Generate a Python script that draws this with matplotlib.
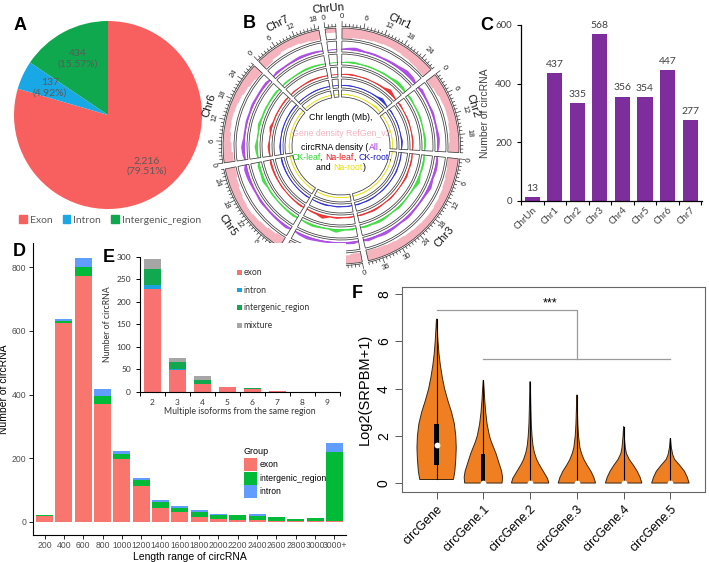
import numpy as np
import matplotlib
matplotlib.use('Agg')
import matplotlib.pyplot as plt
from matplotlib.patches import Wedge, Patch, Rectangle, Polygon
from matplotlib.offsetbox import TextArea, HPacker, AnnotationBbox

plt.rcParams['font.family'] = ['Liberation Sans', 'DejaVu Sans']

# ---------------- DATA ----------------
# Panel A
pie_labels = ['Exon', 'Intron', 'Intergenic_region']
pie_values = [2216, 137, 434]
pie_colors = ['#F8605F', '#18A8E6', '#10A84E']

# Panel B (circos)
chr_names = ['ChrUn', 'Chr1', 'Chr2', 'Chr3', 'Chr4', 'Chr5', 'Chr6', 'Chr7']
chr_len = [3, 28, 23, 40, 22, 27, 29, 19]
gene_density = [
    [0.4],
    [0.95, 0.85, 0.8, 0.75, 0.7, 0.72, 0.78, 0.85, 0.9],
    [0.9, 0.82, 0.72, 0.68, 0.7, 0.78, 0.84, 0.92],
    [0.92, 0.86, 0.78, 0.7, 0.66, 0.6, 0.62, 0.66, 0.7, 0.76, 0.82, 0.88, 0.92],
    [0.88, 0.76, 0.66, 0.6, 0.66, 0.76, 0.88],
    [0.9, 0.8, 0.7, 0.62, 0.56, 0.62, 0.7, 0.8, 0.9],
    [0.88, 0.76, 0.66, 0.56, 0.52, 0.56, 0.62, 0.72, 0.82, 0.9],
    [0.86, 0.72, 0.62, 0.66, 0.76, 0.86],
]
circ_all = [
    [0.1],
    [0.35, 0.6, 0.3, 0.35, 0.3, 0.4, 0.5, 0.85, 0.7],
    [0.6, 0.35, 0.3, 0.45, 0.3, 0.35, 0.55, 0.4],
    [0.4, 0.5, 0.35, 0.7, 0.4, 0.3, 0.35, 0.5, 0.3, 0.45, 0.6, 0.4, 0.55],
    [0.5, 0.35, 0.55, 0.3, 0.4, 0.6, 0.45],
    [0.55, 0.4, 0.35, 0.3, 0.45, 0.3, 0.4, 0.6, 0.7],
    [0.5, 0.7, 0.35, 0.3, 0.4, 0.3, 0.45, 0.35, 0.4, 0.5],
    [0.45, 0.3, 0.35, 0.5, 0.4, 0.3],
]
circ_ckleaf = [
    [0.05],
    [0.2, 0.35, 0.2, 0.25, 0.2, 0.3, 0.3, 0.6, 0.5],
    [0.4, 0.2, 0.25, 0.3, 0.2, 0.25, 0.4, 0.3],
    [0.3, 0.35, 0.25, 0.75, 0.3, 0.2, 0.3, 0.4, 0.2, 0.35, 0.5, 0.3, 0.4],
    [0.35, 0.25, 0.7, 0.2, 0.3, 0.45, 0.3],
    [0.4, 0.3, 0.25, 0.2, 0.3, 0.25, 0.6, 0.4, 0.5],
    [0.35, 0.6, 0.25, 0.2, 0.5, 0.25, 0.3, 0.25, 0.3, 0.35],
    [0.3, 0.2, 0.25, 0.35, 0.3, 0.2],
]
circ_naleaf = [
    [0.05],
    [0.2, 0.3, 0.15, 0.2, 0.15, 0.25, 0.3, 0.9, 0.4],
    [0.35, 0.15, 0.2, 0.25, 0.15, 0.2, 0.3, 0.25],
    [0.25, 0.3, 0.2, 0.4, 0.25, 0.15, 0.2, 0.3, 0.15, 0.3, 0.4, 0.25, 0.3],
    [0.3, 0.2, 0.35, 0.2, 0.85, 0.35, 0.25],
    [0.35, 0.25, 0.2, 0.15, 0.25, 0.2, 0.3, 0.35, 0.4],
    [0.3, 0.45, 0.2, 0.15, 0.6, 0.2, 0.25, 0.2, 0.25, 0.3],
    [0.25, 0.15, 0.2, 0.3, 0.25, 0.15],
]
circ_ckroot = [
    [0.05],
    [0.2, 0.25, 0.15, 0.2, 0.15, 0.2, 0.3, 0.8, 0.35],
    [0.3, 0.15, 0.2, 0.2, 0.15, 0.2, 0.45, 0.25],
    [0.2, 0.25, 0.2, 0.3, 0.2, 0.15, 0.2, 0.25, 0.15, 0.25, 0.3, 0.2, 0.3],
    [0.25, 0.2, 0.3, 0.15, 0.35, 0.25, 0.2],
    [0.3, 0.2, 0.2, 0.15, 0.2, 0.2, 0.25, 0.3, 0.35],
    [0.25, 0.35, 0.2, 0.15, 0.25, 0.2, 0.2, 0.2, 0.25, 0.25],
    [0.2, 0.15, 0.2, 0.25, 0.2, 0.15],
]
circ_naroot = [
    [0.05],
    [0.2, 0.25, 0.15, 0.2, 0.15, 0.25, 0.3, 0.75, 0.4],
    [0.3, 0.15, 0.2, 0.2, 0.15, 0.2, 0.3, 0.25],
    [0.25, 0.25, 0.2, 0.3, 0.2, 0.15, 0.2, 0.3, 0.15, 0.25, 0.35, 0.2, 0.3],
    [0.3, 0.2, 0.3, 0.15, 0.3, 0.3, 0.2],
    [0.3, 0.25, 0.2, 0.15, 0.2, 0.2, 0.3, 0.3, 0.35],
    [0.25, 0.4, 0.2, 0.15, 0.3, 0.2, 0.2, 0.2, 0.25, 0.3],
    [0.25, 0.15, 0.2, 0.25, 0.2, 0.15],
]

# Panel C
chr_counts = [13, 437, 335, 568, 356, 354, 447, 277]

# Panel D
len_bins = ['200', '400', '600', '800', '1000', '1200', '1400', '1600', '1800',
            '2000', '2200', '2400', '2600', '2800', '3000', '3000+']
d_exon = [18, 624, 774, 370, 198, 112, 42, 30, 14, 10, 7, 4, 1, 1, 1, 2]
d_inter = [2, 6, 28, 26, 14, 20, 21, 13, 18, 11, 14, 15, 13, 9, 12, 217]
d_intron = [1, 8, 28, 21, 12, 4, 4, 8, 5, 4, 1, 5, 0, 0, 0, 30]

# Panel E
iso_x = [2, 3, 4, 5, 6, 7, 8, 9]
e_exon = [229, 49, 18, 10, 6, 3, 1, 0]
e_intron = [7, 1, 0, 0, 0, 0, 0, 0]
e_inter = [36, 16, 9, 0, 3, 0, 0, 0]
e_mix = [22, 9, 8, 1, 0, 0, 0, 1]

# Panel F
f_groups = ['circGene', 'circGene.1', 'circGene.2', 'circGene.3', 'circGene.4', 'circGene.5']
vio_y = [
    [0.15, 0.5, 1.0, 1.5, 2.0, 2.5, 3.0, 3.5, 4.0, 4.5, 5.0, 5.5, 6.0, 6.5, 6.95],
    [0.0, 0.25, 0.5, 0.75, 1.0, 1.25, 1.5, 1.75, 2.0, 2.5, 3.0, 3.5, 4.0, 4.35],
    [0.0, 0.2, 0.4, 0.6, 0.8, 1.0, 1.3, 1.6, 2.0, 2.5, 3.0, 3.5, 4.0, 4.3],
    [0.0, 0.25, 0.5, 0.75, 1.0, 1.25, 1.5, 2.0, 2.5, 3.0, 3.73],
    [0.0, 0.25, 0.5, 0.75, 1.0, 1.25, 1.5, 2.0, 2.39],
    [0.0, 0.25, 0.5, 0.75, 1.0, 1.2, 1.5, 1.89],
]
vio_w = [
    [0.36, 0.39, 0.41, 0.42, 0.41, 0.38, 0.32, 0.24, 0.17, 0.12, 0.08, 0.05, 0.03, 0.015, 0.003],
    [0.40, 0.41, 0.39, 0.35, 0.31, 0.27, 0.22, 0.17, 0.13, 0.08, 0.05, 0.03, 0.015, 0.003],
    [0.40, 0.37, 0.31, 0.25, 0.19, 0.14, 0.09, 0.06, 0.04, 0.025, 0.018, 0.012, 0.007, 0.002],
    [0.40, 0.36, 0.30, 0.22, 0.15, 0.10, 0.065, 0.035, 0.02, 0.012, 0.002],
    [0.39, 0.35, 0.29, 0.21, 0.12, 0.06, 0.035, 0.012, 0.002],
    [0.40, 0.36, 0.30, 0.20, 0.09, 0.05, 0.02, 0.002],
]
f_q1 = [0.76, 0.0, 0.0, 0.0, 0.0, 0.0]
f_q3 = [2.52, 1.25, 0.0, 0.0, 0.0, 0.0]
f_med = [1.6, 0.0, 0.0, 0.0, 0.0, 0.0]
f_lo = [0.15, 0.0, 0.0, 0.0, 0.0, 0.0]
f_hi = [6.95, 4.35, 4.3, 3.73, 2.39, 1.89]

# ---------------- FIGURE ----------------
W, H = 709, 562
fig = plt.figure(figsize=(W / 100, H / 100), dpi=100)


def add_ax(x0, y0, x1, y1):
    return fig.add_axes([x0 / W, 1 - y1 / H, (x1 - x0) / W, (y1 - y0) / H])


def panel_letter(x, y, s):
    fig.text(x / W, 1 - y / H, s, fontsize=13, fontweight='bold', ha='center', va='center',
             family='Liberation Sans')


def fig_square(x, y, s, color):
    fig.patches.append(Rectangle(((x - s / 2) / W, 1 - (y + s / 2) / H), s / W, s / H,
                                 transform=fig.transFigure, color=color, lw=0))


# ---------- Panel A ----------
axA = add_ax(14, 21, 202, 209)
total = sum(pie_values)
pie_txt = [f"{v:,}\n({v / total * 100:.2f}%)" for v in pie_values]
wedges, texts = axA.pie(pie_values, colors=pie_colors, startangle=90, counterclock=False,
                        labels=pie_txt, labeldistance=0.68,
                        textprops=dict(fontsize=7.5, color='#5a5a5a', family='Lato'))
for t in texts:
    t.set_ha('center')
    t.set_va('center')
    t.set_multialignment('center')
axA.set_xlim(-1, 1)
axA.set_ylim(-1, 1)
axA.set_aspect('equal')
fig.legend([Patch(color=c) for c in pie_colors], pie_labels, loc='center',
           bbox_to_anchor=(110 / W, 1 - 220 / H), ncol=3, frameon=False,
           prop=dict(family='Lato', size=7.5), labelcolor='#5a5a5a',
           handlelength=0.7, handleheight=0.7, handletextpad=0.3, columnspacing=1.0)
panel_letter(20, 25, 'A')

# ---------- Panel B (circos) ----------
cx, cy = 341, 146
axB = add_ax(191, 0, 491, 290)
axB.set_xlim(191 - cx, 491 - cx)
axB.set_ylim(cy - 290, cy - 0)
axB.axis('off')

gap = 3.0
kdeg = (360 - gap * len(chr_len)) / sum(chr_len)
starts = []
a = 0.5 - gap - chr_len[0] * kdeg
for L in chr_len:
    starts.append(a)
    a += L * kdeg + gap


def pol(theta, r):
    t = np.deg2rad(theta)
    return r * np.sin(t), r * np.cos(t)


rings = [(107, 118), (94, 105), (81, 92), (69, 79), (58, 67), (49, 56)]
track_cols = ['#F5B3BE', '#A035E0', '#2BD82B', '#E81818', '#1818D0', '#E6E000']
tracks = [gene_density, circ_all, circ_ckleaf, circ_naleaf, circ_ckroot, circ_naroot]

for ci, L in enumerate(chr_len):
    t0 = starts[ci]
    t1 = t0 + L * kdeg
    for ri, (rin, rout) in enumerate(rings):
        vals = tracks[ri][ci]
        n = len(vals)
        if ri == 0:
            edges = np.linspace(t0, t1, n + 1)
            th_in, r_in = [], []
            for j in range(n):
                rr = rout - vals[j] * (rout - rin)
                th_in += [edges[j], edges[j + 1]]
                r_in += [rr, rr]
            th_out = np.linspace(t0, t1, 30)
            xo, yo = pol(th_out, np.full_like(th_out, rout))
            xi, yi = pol(np.array(th_in)[::-1], np.array(r_in)[::-1])
            axB.add_patch(Polygon(np.column_stack([np.r_[xo, xi], np.r_[yo, yi]]),
                                  closed=True, fc=track_cols[ri], ec='none', zorder=2))
        else:
            centers = t0 + (np.arange(n) + 0.5) * (t1 - t0) / n
            th = np.r_[t0, centers, t1]
            vv = np.r_[vals[0] * 0.5, vals, vals[-1] * 0.5]
            thf = np.linspace(t0, t1, 80)
            vf = np.interp(thf, th, vv)
            base = rin + 2.5
            rv = base + vf * 0.6 * (rout - rin - 3)
            xb, yb = pol(thf, np.full_like(thf, base))
            xv, yv = pol(thf, rv)
            axB.add_patch(Polygon(np.column_stack([np.r_[xb, xv[::-1]], np.r_[yb, yv[::-1]]]),
                                  closed=True, fc=track_cols[ri], ec='none', alpha=0.85, zorder=2))
            axB.plot(xb, yb, color=track_cols[ri], lw=0.5, zorder=3)
        axB.add_patch(Wedge((0, 0), rout, 90 - t1, 90 - t0, width=rout - rin,
                            fc='none', ec='#3a3a3a', lw=0.55, zorder=4))
    for u in range(0, int(L) + 1):
        th = t0 + u * kdeg
        rr = 124.5 if u % 6 == 0 else 122
        x0_, y0_ = pol(th, 119.5)
        x1_, y1_ = pol(th, rr)
        axB.plot([x0_, x1_], [y0_, y1_], color='#333333', lw=0.5, zorder=4)
        if u % 6 == 0:
            xt, yt = pol(th, 129)
            rot = -th % 360
            if 90 < th % 360 < 270:
                rot = (rot + 180) % 360
            axB.text(xt, yt, str(u), fontsize=5.5, rotation=rot, ha='center', va='center',
                     rotation_mode='anchor', color='#222222')
    xa, ya = pol(np.linspace(t0, t1, 40), np.full(40, 119.5))
    axB.plot(xa, ya, color='#333333', lw=0.5, zorder=4)
    thm = (t0 + t1) / 2
    xt, yt = pol(thm, 138)
    rot = -thm % 360
    if 90 < thm % 360 < 270:
        rot = (rot + 180) % 360
    axB.text(xt, yt, chr_names[ci], fontsize=8, rotation=rot, ha='center', va='center',
             rotation_mode='anchor', color='#111111')

center_lines = [
    (118, [("Chr length (Mb),", 'black')]),
    (133, [("Gene density RefGen_v2", '#F5B3BE')]),
    (147, [("circRNA density (", 'black'), ("All", '#A035E0'), (",", 'black')]),
    (157, [("CK-leaf", '#2BD82B'), (", ", 'black'), ("Na-leaf", '#E81818'), (", ", 'black'),
           ("CK-root", '#1818D0'), (",", 'black')]),
    (167, [("and ", 'black'), ("Na-root", '#E6E000'), (")", 'black')]),
]
for yy, parts in center_lines:
    boxes = [TextArea(s, textprops=dict(color=c, fontsize=6.3, family='Liberation Sans'))
             for s, c in parts]
    hp = HPacker(children=boxes, align='baseline', pad=0, sep=0)
    ab = AnnotationBbox(hp, (0, cy - yy), xycoords='data', frameon=False,
                        box_alignment=(0.5, 0.5), pad=0)
    axB.add_artist(ab)
panel_letter(249, 24, 'B')

# ---------- Panel C ----------
axC = add_ax(521, 25, 702, 201)
xc = np.arange(len(chr_names))
axC.bar(xc, chr_counts, width=0.67, color='#7E2D9C')
for xi, v in zip(xc, chr_counts):
    axC.annotate(str(v), (xi, v), xytext=(0, 3), textcoords='offset points', ha='center',
                 va='bottom', fontsize=7.5, color='#404040', family='Lato')
axC.set_xlim(-0.5, 7.53)
axC.set_ylim(0, 600)
axC.set_xticks(xc)
axC.set_xticklabels(chr_names, rotation=45, ha='right', va='top', rotation_mode='anchor',
                    fontsize=7, color='#404040', family='Lato')
axC.set_xticks(np.arange(-0.5, 8, 1), minor=True)
axC.tick_params(axis='x', which='major', length=0, pad=3)
axC.tick_params(axis='x', which='minor', length=3, width=0.8)
axC.set_yticks([0, 200, 400, 600])
axC.tick_params(axis='y', labelsize=7, length=3, width=0.8, labelcolor='#404040')
for lab in axC.get_yticklabels():
    lab.set_family('Lato')
for s in ['top', 'right']:
    axC.spines[s].set_visible(False)
for s in ['left', 'bottom']:
    axC.spines[s].set_linewidth(0.9)
axC.set_ylabel('Number of circRNA', fontsize=7.5, color='#404040')
axC.yaxis.set_label_coords(-0.17, 0.5)
panel_letter(487, 26, 'C')

# ---------- Panel D ----------
d_colors = ['#F8766D', '#00BA38', '#619CFF']
axD = add_ax(33, 243, 346, 535)
xd = np.arange(1, len(len_bins) + 1)
bot = np.zeros(len(xd))
for vals, col in zip([d_exon, d_inter, d_intron], d_colors):
    axD.bar(xd, vals, width=0.88, bottom=bot, color=col, linewidth=0)
    bot += np.array(vals)
axD.set_xlim(0.4, 16.6)
axD.set_ylim(-41.75, 876.75)
axD.set_xticks(xd)
axD.set_xticklabels(len_bins, fontsize=6.2, color='#4D4D4D')
axD.set_yticks([0, 200, 400, 600, 800])
axD.tick_params(axis='y', labelsize=6.2, labelcolor='#4D4D4D', length=3, width=0.6, pad=2)
axD.tick_params(axis='x', length=3, width=0.6, pad=1.5)
for s in ['top', 'right']:
    axD.spines[s].set_visible(False)
for s in ['left', 'bottom']:
    axD.spines[s].set_linewidth(0.8)
axD.set_xlabel('Length range of circRNA', fontsize=7.5, labelpad=1)
axD.set_ylabel('Number of circRNA', fontsize=7.5, labelpad=1.5)
fig.text(243 / W, 1 - 452 / H, 'Group', fontsize=6.5, ha='left', va='center')
for k_, (lab, col) in enumerate(zip(['exon', 'intergenic_region', 'intron'], d_colors)):
    yc = 464.5 + k_ * 13.6
    fig.patches.append(Rectangle((244.3 / W, 1 - (yc + 6.6) / H), 13 / W, 13.2 / H,
                                 transform=fig.transFigure, color=col, lw=0))
    fig.text(259.5 / W, 1 - yc / H, lab, fontsize=6.2, ha='left', va='center')
panel_letter(19, 252, 'D')

# ---------- Panel E ----------
e_colors = ['#F87272', '#1CA3DE', '#12A84F', '#A6A6A6']
axE = add_ax(140, 256.5, 340, 392)
axE.patch.set_alpha(0)
bot = np.zeros(len(iso_x))
for vals, col in zip([e_exon, e_intron, e_inter, e_mix], e_colors):
    axE.bar(iso_x, vals, width=0.68, bottom=bot, color=col, linewidth=0)
    bot += np.array(vals)
axE.set_xlim(1.52, 9.52)
axE.set_ylim(0, 300)
axE.set_xticks(iso_x)
axE.set_xticklabels([str(v) for v in iso_x], fontsize=6, family='Lato', color='#333333')
axE.set_xticks(np.arange(1.5, 9.6, 1), minor=True)
axE.tick_params(axis='x', which='major', length=0, pad=5)
axE.tick_params(axis='x', which='minor', length=3, width=0.7)
axE.set_yticks(range(0, 301, 50))
axE.tick_params(axis='y', labelsize=6, length=3, width=0.7, labelcolor='#333333')
for lab in axE.get_yticklabels():
    lab.set_family('Lato')
for s in ['top', 'right']:
    axE.spines[s].set_visible(False)
for s in ['left', 'bottom']:
    axE.spines[s].set_linewidth(0.8)
axE.set_xlabel('Multiple isoforms from the same region', fontsize=6.3, family='Lato',
               color='#333333', labelpad=1)
axE.set_ylabel('Number of circRNA', fontsize=6.3, family='Lato', color='#333333', labelpad=3)
for k_, (lab, col) in enumerate(zip(['exon', 'intron', 'intergenic_region', 'mixture'], e_colors)):
    yc = 272.5 + k_ * 17.6
    fig_square(239.5, yc, 4.5, col)
    fig.text(243.5 / W, 1 - yc / H, lab, fontsize=6.2, family='Lato', ha='left', va='center',
             color='#333333')
panel_letter(109, 258, 'E')

# ---------- Panel F ----------
orange = '#F07F22'
axF = add_ax(402, 287, 705, 492)
for i in range(len(f_groups)):
    xcen = i + 1
    ys = np.array(vio_y[i])
    ws = np.array(vio_w[i])
    poly = np.column_stack([np.r_[xcen - ws, (xcen + ws)[::-1]], np.r_[ys, ys[::-1]]])
    axF.add_patch(Polygon(poly, closed=True, fc=orange, ec='#3b2510', lw=0.7, zorder=2))
    axF.plot([xcen, xcen], [f_lo[i], f_hi[i]], color='black', lw=0.8, zorder=3)
    if f_q3[i] > f_q1[i]:
        axF.add_patch(Rectangle((xcen - 0.045, f_q1[i]), 0.09, f_q3[i] - f_q1[i],
                                fc='black', ec='none', zorder=4))
    axF.plot(xcen, f_med[i], 'o', ms=4.2, color='white', mec='none', zorder=5)
axF.set_xlim(0.26, 6.74)
axF.set_ylim(-0.38, 8.31)
axF.set_xticks(range(1, 7))
axF.set_xticklabels(f_groups, rotation=45, ha='right', va='top', rotation_mode='anchor',
                    fontsize=9)
axF.set_yticks([0, 2, 4, 6, 8])
axF.set_yticklabels(['0', '2', '4', '6', '8'], rotation=90, va='center', fontsize=10)
axF.tick_params(axis='both', length=5, width=0.7, color='#555555')
axF.tick_params(axis='y', pad=3)
axF.tick_params(axis='x', pad=3)
for s in axF.spines.values():
    s.set_color('#666666')
    s.set_linewidth(0.8)
axF.set_ylabel('Log2(SRPBM+1)', fontsize=10.5, labelpad=4)
gray = '#9a9a9a'
axF.plot([1, 4, 4], [7.33, 7.33, 5.25], color=gray, lw=0.9)
axF.plot([2, 6], [5.25, 5.25], color=gray, lw=0.9)
axF.text(3.42, 7.38, '***', ha='center', va='bottom', fontsize=9)
panel_letter(357, 294, 'F')

fig.savefig('out.png', dpi=100)
